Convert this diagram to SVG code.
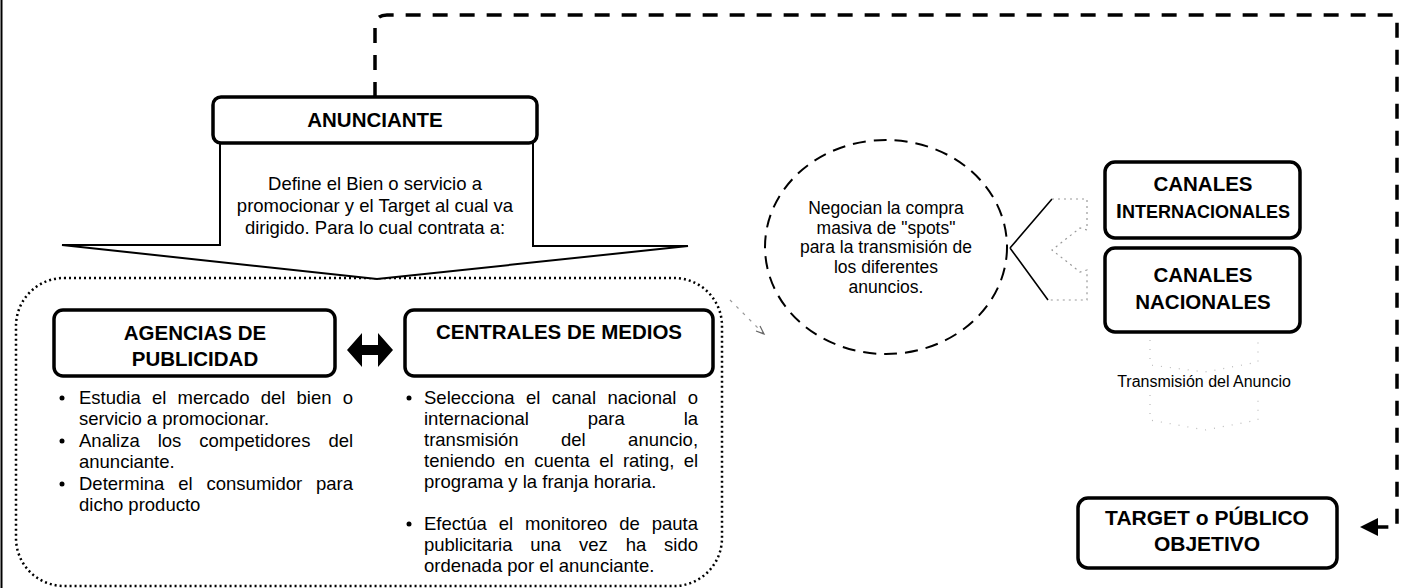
<svg xmlns="http://www.w3.org/2000/svg" width="1410" height="588" viewBox="0 0 1410 588">
<style>
  .box{fill:#fff;stroke:#000;stroke-width:3.5}
  .title{font-family:"Liberation Sans",Arial,sans-serif;font-weight:bold;font-size:20.5px;fill:#000;text-anchor:middle}
  .body{font-family:"Liberation Sans",Arial,sans-serif;font-size:18.5px;fill:#000}
  .mid{text-anchor:middle}
  .dash{fill:none;stroke:#000;stroke-width:3.5;stroke-dasharray:15 12}
  .faint{fill:none;stroke:#bbb;stroke-width:1.2;stroke-dasharray:1 8}
</style>
<rect width="1410" height="588" fill="#fff"/>
<line x1="1.5" y1="0" x2="1.5" y2="588" stroke="#000" stroke-width="2"/>

<g id="connectors">
  <path class="dash" d="M375,97 V27 Q375,15 387,15 H1397 V527 H1378"/>
  <polygon points="1360,527 1378,518 1378,536" fill="#000"/>
  <polygon id="double-arrow" points="347,350 362,333 362,345 378,345 378,333 393,350 378,367 378,355 362,355 362,367" fill="#000"/>
  <path d="M730,300 L763,333" fill="none" stroke="#999" stroke-width="1.2" stroke-dasharray="3 6"/>
  <path d="M756,331 L764,334 L760,326" fill="none" stroke="#666" stroke-width="1.2"/>
  <path d="M1010,248 L1052,199 M1010,248 L1048,300" fill="none" stroke="#000" stroke-width="1.6"/>
  <path d="M1052,199 H1087 V230 L1080,228 L1052,250 L1080,272 L1087,270 V300 H1048" fill="none" stroke="#999" stroke-width="1.2" stroke-dasharray="2 4"/>
  <path class="faint" d="M1150,340 L1150,365 L1205,372 L1258,362 L1258,340"/>
  <path class="faint" d="M1150,395 L1150,420 L1205,430 L1258,420 L1258,395"/>
</g>

<g id="grupo-agencias-centrales">
  <rect x="16" y="278" width="706" height="308" rx="48" fill="none" stroke="#000" stroke-width="2.5" stroke-dasharray="2 3"/>
</g>

<g id="anunciante">
  <path d="M220,143 V245 H62 L377,279 L688,246 H533 V143" fill="#fff" stroke="#000" stroke-width="2"/>
  <rect class="box" x="213" y="97" width="324" height="46" rx="8"/>
  <text class="title" x="375" y="127">ANUNCIANTE</text>
  <text class="body mid" x="375" y="190">Define el Bien o servicio a</text>
  <text class="body mid" x="375" y="212">promocionar y el Target al cual va</text>
  <text class="body mid" x="375" y="234">dirigido. Para lo cual contrata a:</text>
</g>

<g id="agencias">
  <rect class="box" x="54" y="310" width="281" height="66" rx="9"/>
  <text class="title" x="195" y="340">AGENCIAS DE</text>
  <text class="title" x="195" y="366">PUBLICIDAD</text>
  <circle cx="62" cy="398" r="2.5"/>
  <circle cx="62" cy="441" r="2.5"/>
  <circle cx="62" cy="484" r="2.5"/>
  <text class="body" x="79" y="404" word-spacing="6.06">Estudia el mercado del bien o</text>
  <text class="body" x="79" y="425">servicio a promocionar.</text>
  <text class="body" x="79" y="447" word-spacing="12.86">Analiza los competidores del</text>
  <text class="body" x="79" y="468">anunciante.</text>
  <text class="body" x="79" y="490" word-spacing="8.75">Determina el consumidor para</text>
  <text class="body" x="79" y="511">dicho producto</text>
</g>

<g id="centrales">
  <rect class="box" x="405" y="310" width="308" height="66" rx="9"/>
  <text class="title" x="559" y="339">CENTRALES DE MEDIOS</text>
  <circle cx="409" cy="398" r="2.5"/>
  <circle cx="409" cy="524" r="2.5"/>
  <text class="body" x="424" y="404" word-spacing="6.29">Selecciona el canal nacional o</text>
  <text class="body" x="424" y="425" word-spacing="53.71">internacional para la</text>
  <text class="body" x="424" y="446" word-spacing="37.27">transmisión del anuncio,</text>
  <text class="body" x="424" y="467" word-spacing="4.21">teniendo en cuenta el rating, el</text>
  <text class="body" x="424" y="488">programa y la franja horaria.</text>
  <text class="body" x="424" y="530" word-spacing="6.8">Efectúa el monitoreo de pauta</text>
  <text class="body" x="424" y="551" word-spacing="12.72">publicitaria una vez ha sido</text>
  <text class="body" x="424" y="572">ordenada por el anunciante.</text>
</g>

<g id="negociacion">
  <ellipse cx="886" cy="247" rx="121" ry="107" fill="#fff" stroke="#000" stroke-width="2" stroke-dasharray="13 8"/>
  <text class="body mid" style="font-size:17.5px" x="886" y="214">Negocian la compra</text>
  <text class="body mid" style="font-size:17.5px" x="886" y="234">masiva de "spots"</text>
  <text class="body mid" style="font-size:17.5px" x="886" y="253">para la transmisión de</text>
  <text class="body mid" style="font-size:17.5px" x="886" y="273">los diferentes</text>
  <text class="body mid" style="font-size:17.5px" x="886" y="293">anuncios.</text>
</g>

<g id="canales-internacionales">
  <rect class="box" x="1105" y="162" width="195" height="76" rx="10"/>
  <text class="title" x="1203" y="191">CANALES</text>
  <text class="title" x="1203" y="218"><tspan font-size="21">I</tspan><tspan font-size="18">NTERNACIONALES</tspan></text>
</g>

<g id="canales-nacionales">
  <rect class="box" x="1105" y="248" width="195" height="84" rx="10"/>
  <text class="title" x="1203" y="282">CANALES</text>
  <text class="title" x="1203" y="309">NACIONALES</text>
</g>

<g id="transmision">
  <text class="body mid" style="font-size:16px" x="1204" y="387">Transmisión del Anuncio</text>
</g>

<g id="target">
  <rect class="box" x="1078" y="498" width="259" height="70" rx="10"/>
  <text class="title" x="1207" y="525" style="font-size:21px">TARGET o PÚBLICO</text>
  <text class="title" x="1207" y="551" style="font-size:21px">OBJETIVO</text>
</g>
</svg>
